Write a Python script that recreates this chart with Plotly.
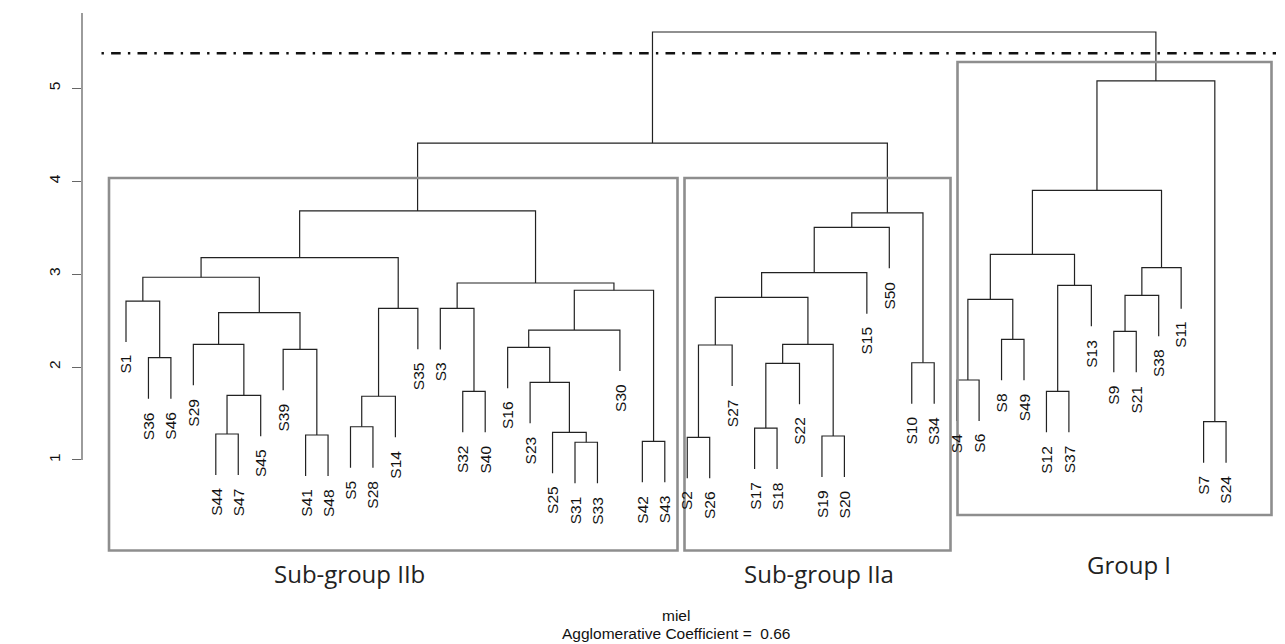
import plotly.graph_objects as go

# ---------------- data ----------------
leaf_order = ["S1", "S36", "S46", "S29", "S44", "S47", "S45", "S39", "S41", "S48",
              "S5", "S28", "S14", "S35", "S3", "S32", "S40", "S16", "S23", "S25",
              "S31", "S33", "S30", "S42", "S43", "S2", "S26", "S27", "S17", "S18",
              "S22", "S19", "S20", "S15", "S50", "S10", "S34", "S4", "S6", "S8",
              "S49", "S12", "S37", "S13", "S9", "S21", "S38", "S11", "S7", "S24"]

# R-style merge table: negative = sample number (S#), positive = earlier merge step (1-based)
merge_left = [-36, -1, -44, 3, -29, -41, -39, 5, 2, -5, 10, 11, 9, -32, -3, -31, -25, -23,
              -16, 19, -42, 20, 15, 13, -2, 25, -17, 27, -19, 28, 26, 31, 32, -10, 33, 24,
              -4, -8, 37, -12, 40, 39, -9, 43, 44, 42, -7, 46, 36]
merge_right = [-46, 1, -47, -45, 4, -48, 6, 7, 8, -28, -14, -35, 12, -40, 14, -33, 16, 17,
               18, -30, -43, 21, 22, 23, -26, -27, -18, -22, -20, 29, 30, -15, -50, -34, 34, 35,
               -6, -49, 38, -37, -13, 41, -21, -38, -11, 45, -24, 47, 48]
merge_height = [2.10, 2.71, 1.279, 1.695, 2.244, 1.268, 2.19, 2.585, 2.966, 1.357, 1.685, 2.632,
                3.177, 1.738, 2.63, 1.19, 1.297, 1.835, 2.212, 2.398, 1.20, 2.826, 2.904, 3.68,
                1.243, 2.237, 1.343, 2.04, 1.257, 2.244, 2.75, 3.015, 3.504, 2.046, 3.66, 4.41,
                1.86, 2.298, 2.729, 1.738, 2.879, 3.213, 2.384, 2.772, 3.069, 3.902, 1.412,
                5.079, 5.606]

cut_height = 5.377
y_ticks = [1, 2, 3, 4, 5]
group_names = ["Sub-group IIb", "Sub-group IIa", "Group I"]
sub_title = "miel"
coef_text = "Agglomerative Coefficient =  0.66"

# ---------------- layout geometry helpers ----------------
# the page body has an 8px margin, so the figure starts at (8, 8) in the window
OFF = 8
W, H = 1285 - OFF, 644 - OFF
ML = 82 - OFF
LEAF0, LEAF_STEP = 126, 22.45      # window px of first leaf, px per leaf
H5, H_STEP = 88.3, 92.9            # window px of height 5, px per unit height
x_lo = 1 + (82 - LEAF0) / LEAF_STEP
x_hi = 1 + (1285 - LEAF0) / LEAF_STEP
y_hi = 5 + (H5 - OFF) / H_STEP
y_lo = 5 - (644 - H5) / H_STEP


def xpx(p):
    """window pixel x -> data x"""
    return 1 + (p - LEAF0) / LEAF_STEP


def ypx(p):
    """window pixel y -> data y"""
    return 5 - (p - H5) / H_STEP


hang = 0.1 * (max(merge_height) - min(merge_height))

pos = {int(s[1:]): i + 1 for i, s in enumerate(leaf_order)}
node_x = {}
line_x, line_y = [], []
leaf_end = {}


def child(c, h):
    if c < 0:
        x = pos[-c]
        yb = h - hang
        leaf_end[-c] = yb
        return x, yb
    return node_x[c], merge_height[c - 1]


for k, (a, b, h) in enumerate(zip(merge_left, merge_right, merge_height), start=1):
    xa, ya = child(a, h)
    xb, yb = child(b, h)
    line_x += [xa, xa, xb, xb, None]
    line_y += [ya, h, h, yb, None]
    node_x[k] = (xa + xb) / 2

fig = go.Figure()
fig.add_trace(go.Scatter(x=line_x, y=line_y, mode="lines",
                         line=dict(color="#222222", width=1.2),
                         hoverinfo="skip", showlegend=False))

annotations = []
for s in leaf_order:
    n = int(s[1:])
    annotations.append(dict(x=pos[n], y=leaf_end[n], xref="x", yref="y", text=s,
                            showarrow=False, textangle=-90, xanchor="center", yanchor="top",
                            yshift=-11, font=dict(family="Liberation Sans", size=15.5, color="#111")))

# axis title
annotations.append(dict(x=xpx(17), y=ypx(277), xref="x", yref="y", text="Height", showarrow=False,
                        textangle=-90, xanchor="center", yanchor="middle",
                        font=dict(family="Liberation Sans", size=15.5, color="#111")))
# sub-title lines
annotations.append(dict(x=xpx(676), y=ypx(615), xref="x", yref="y", text=sub_title, showarrow=False,
                        xanchor="center", yanchor="middle",
                        font=dict(family="Liberation Sans", size=15.5, color="#111")))
annotations.append(dict(x=xpx(676), y=ypx(633), xref="x", yref="y", text=coef_text, showarrow=False,
                        xanchor="center", yanchor="middle",
                        font=dict(family="Liberation Sans", size=15.5, color="#111")))
# group labels
for name, cx, cy in zip(group_names, [349, 819, 1129], [573, 573, 564]):
    annotations.append(dict(x=xpx(cx), y=ypx(cy), xref="x", yref="y", text=name, showarrow=False,
                            xanchor="center", yanchor="middle",
                            font=dict(family="Open Sans", size=24, color="#222")))

shapes = []
# group boxes (window-pixel extents of the hand-drawn frames)
for (l, t, r, b) in [(109, 178, 677.5, 550.5), (684.5, 178, 950.5, 550.5), (957.5, 62, 1271.5, 515)]:
    shapes.append(dict(type="rect", xref="x", yref="y", x0=xpx(l), x1=xpx(r), y0=ypx(b), y1=ypx(t),
                       line=dict(color="#8e8e8e", width=2.6), fillcolor="rgba(0,0,0,0)", layer="above"))
# cut line
shapes.append(dict(type="line", xref="x", yref="y", x0=xpx(101.5), x1=xpx(1276), y0=cut_height, y1=cut_height,
                   line=dict(color="#111", width=2.4, dash="2.4px,7.2px,9.6px,7.2px")))
# y axis line
shapes.append(dict(type="line", xref="paper", yref="y", x0=0, x1=0, y0=min(y_ticks), y1=ypx(13),
                   line=dict(color="#666", width=1.3)))

fig.update_layout(
    width=W, height=H,
    margin=dict(l=ML, r=0, t=0, b=0),
    plot_bgcolor="white", paper_bgcolor="white",
    showlegend=False,
    xaxis=dict(range=[x_lo, x_hi], visible=False),
    yaxis=dict(range=[y_lo, y_hi], tickvals=y_ticks, ticks="outside", ticklen=9, tickwidth=1.3,
               tickcolor="#666", tickangle=-90, showgrid=False, zeroline=False, showline=False,
               ticklabelstandoff=6,
               tickfont=dict(family="Liberation Sans", size=15.5, color="#111")),
    annotations=annotations,
    shapes=shapes,
)

fig.write_html("out.html", config={"displayModeBar": False})
